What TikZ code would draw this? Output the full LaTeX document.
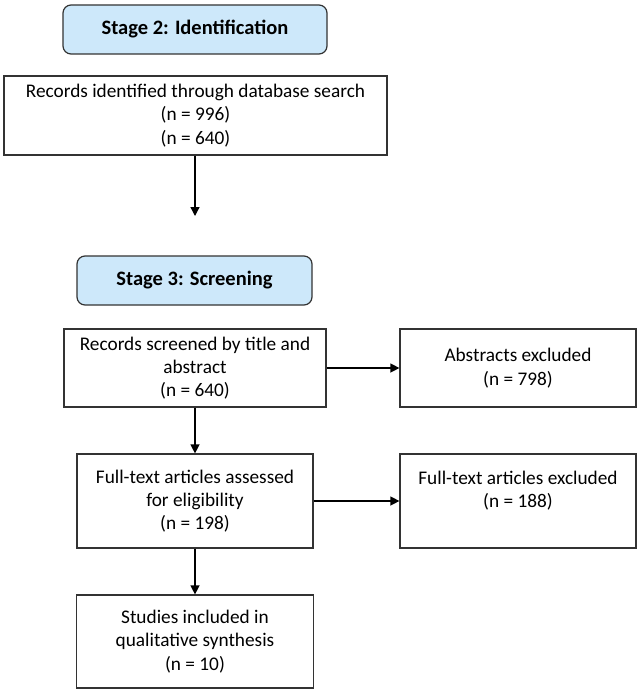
\documentclass[tikz,border=0pt]{standalone}
\usepackage{fontspec}
\setmainfont{Carlito}
\usetikzlibrary{arrows.meta}
\definecolor{stagefill}{HTML}{CDE8FA}
\definecolor{edge}{HTML}{333333}
\begin{document}
\begin{tikzpicture}[x=1pt,y=-1pt,
  every node/.style={font=\fontsize{19.3}{23.3}\selectfont, inner sep=0pt, align=center},
  stagebox/.style={draw=edge, fill=stagefill, rounded corners=8pt, line width=1.2pt, font=\fontsize{20.5}{23}\selectfont\bfseries},
  plainbox/.style={draw=edge, line width=1.2pt, execute at begin node={\vspace*{6pt}}},
  arr/.style={draw=black, line width=1.3pt, -{Triangle[length=9pt,width=9pt]}}]
\useasboundingbox (0,0) rectangle (640,693);
\node[stagebox, minimum width=264pt, minimum height=49pt] (s2) at (195,29.5) {Stage 2: Identification};
\node[plainbox, minimum width=383pt, minimum height=79pt] (rec) at (195.5,115.5) {Records identified through database search\\(n = 996)\\(n = 640)};
\coordinate (recend) at (195,216);
\node[stagebox, minimum width=235pt, minimum height=49pt] (s3) at (194.5,280.5) {Stage 3: Screening};
\node[plainbox, minimum width=262pt, minimum height=78pt] (scr) at (195,368) {Records screened by title and\\abstract\\(n = 640)};
\node[plainbox, minimum width=236pt, minimum height=78pt] (abs) at (518,368) {Abstracts excluded\\(n = 798)};
\node[plainbox, minimum width=236pt, minimum height=94pt] (ft) at (195,501) {Full-text articles assessed\\for eligibility\\(n = 198)};
\node[plainbox, minimum width=236pt, minimum height=94pt] (ftx) at (518,501) {Full-text articles excluded\\(n = 188)\\\mbox{}};
\node[plainbox, minimum width=237pt, minimum height=93pt] (st) at (195,641.5) {Studies included in\\qualitative synthesis\\(n = 10)};
\draw[arr] (rec.south -| recend) -- (recend);
\draw[arr] (scr.east) -- (abs.west);
\draw[arr] (scr.south) -- (ft.north);
\draw[arr] (ft.east) -- (ftx.west);
\draw[arr] (ft.south) -- (st.north);
\end{tikzpicture}
\end{document}
